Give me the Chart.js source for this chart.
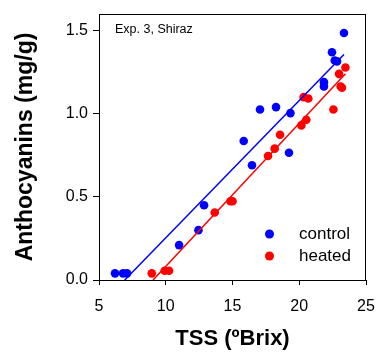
<!DOCTYPE html>
<html>
<head>
<meta charset="utf-8">
<script src="https://cdn.jsdelivr.net/npm/chart.js@4"></script>
<style>
  html, body { margin: 0; padding: 0; background: #fff; }
  #wrap { width: 377px; height: 352px; }
</style>
</head>
<body>
<div id="wrap"><canvas id="chart"></canvas></div>
<script>
// Control (blue) points
const controlX = [6.2, 6.8, 7.1, 11.0, 12.45, 12.87, 15.84, 16.46, 17.06, 18.26, 19.23, 19.34, 21.85, 21.85, 22.45, 22.66, 22.83, 23.35];
const controlY = [0.04, 0.04, 0.04, 0.21, 0.30, 0.45, 0.836, 0.69, 1.026, 1.04, 0.765, 1.004, 1.19, 1.164, 1.37, 1.32, 1.315, 1.486];

// Heated (red) points
const heatedX = [8.95, 9.92, 10.25, 13.67, 14.85, 15.0, 17.66, 18.16, 18.56, 20.16, 20.53, 20.33, 20.68, 22.56, 22.98, 23.46, 23.1, 23.2];
const heatedY = [0.04, 0.056, 0.056, 0.406, 0.474, 0.474, 0.746, 0.79, 0.874, 0.93, 0.964, 1.10, 1.092, 1.026, 1.24, 1.278, 1.164, 1.156];

// Fitted regression lines (end points)
const controlFitX = [6.93, 23.35];
const controlFitY = [0, 1.356];
const heatedFitX = [9.05, 23.46];
const heatedFitY = [0, 1.24];

const xTicks = [5, 10, 15, 20, 25];
const yTicks = [0.0, 0.5, 1.0, 1.5];

const seriesNames = ['control', 'heated'];
const blue = '#0000ff';
const red = '#ff0000';

function toPoints(xs, ys) {
  return xs.map((x, i) => ({ x: x, y: ys[i] }));
}

// frame around plot + inner legend + note text
const framePlugin = {
  id: 'frame',
  afterDraw(chart) {
    const { ctx, chartArea } = chart;
    ctx.save();
    ctx.strokeStyle = '#000';
    ctx.lineWidth = 1;
    ctx.strokeRect(chartArea.left + 0.5, chartArea.top + 0.5,
      chartArea.right - chartArea.left - 1, chartArea.bottom - chartArea.top);

    ctx.fillStyle = '#000';
    ctx.font = '12.5px "Liberation Sans", Arial, sans-serif';
    ctx.textBaseline = 'middle';
    ctx.textAlign = 'left';
    ctx.fillText('Exp. 3, Shiraz', chartArea.left + 16, chartArea.top + 16);

    // legend
    const colors = [blue, red];
    ctx.font = '17px "Liberation Sans", Arial, sans-serif';
    seriesNames.forEach((name, i) => {
      const cy = chartArea.top + 220 + i * 22;
      const cx = chartArea.left + 170.5;
      ctx.beginPath();
      ctx.arc(cx, cy, 4.5, 0, Math.PI * 2);
      ctx.fillStyle = colors[i];
      ctx.fill();
      ctx.fillStyle = '#000';
      ctx.fillText(name, cx + 29.5, cy);
    });
    ctx.restore();
  }
};

const tickFont = { family: '"Liberation Sans", Arial, sans-serif', size: 16 };
const titleFont = { family: '"Liberation Sans", Arial, sans-serif', size: 22, weight: 'bold' };

new Chart(document.getElementById('chart'), {
  type: 'scatter',
  data: {
    datasets: [
      {
        label: 'control fit',
        type: 'line',
        data: toPoints(controlFitX, controlFitY),
        borderColor: blue,
        borderWidth: 1.5,
        pointRadius: 0,
        fill: false
      },
      {
        label: 'heated fit',
        type: 'line',
        data: toPoints(heatedFitX, heatedFitY),
        borderColor: red,
        borderWidth: 1.5,
        pointRadius: 0,
        fill: false
      },
      {
        label: seriesNames[0],
        data: toPoints(controlX, controlY),
        backgroundColor: blue,
        borderColor: blue,
        pointRadius: 4.3,
        borderWidth: 0
      },
      {
        label: seriesNames[1],
        data: toPoints(heatedX, heatedY),
        backgroundColor: red,
        borderColor: red,
        pointRadius: 4.3,
        borderWidth: 0
      }
    ]
  },
  options: {
    responsive: true,
    maintainAspectRatio: false,
    animation: false,
    clip: false,
    layout: { padding: { top: 14, right: 11, left: 0, bottom: 0 } },
    plugins: {
      legend: { display: false },
      tooltip: { enabled: false }
    },
    scales: {
      x: {
        type: 'linear',
        min: 5,
        max: 25,
        afterBuildTicks: s => { s.ticks = xTicks.map(v => ({ value: v })); },
        afterFit: s => { s.height = 72; s.paddingLeft = 0; s.paddingRight = 0; },
        ticks: { font: tickFont, color: '#000', padding: 12, maxRotation: 0 },
        grid: { drawOnChartArea: false, tickLength: 5, color: '#000' },
        border: { display: true, color: '#000', width: 1 },
        title: { display: true, text: 'TSS (ºBrix)', font: titleFont, color: '#000', padding: { top: 0, bottom: 0 } }
      },
      y: {
        type: 'linear',
        min: 0,
        max: 1.6,
        afterBuildTicks: s => { s.ticks = yTicks.map(v => ({ value: v })); },
        afterFit: s => { s.width = 99; s.paddingTop = 0; s.paddingBottom = 0; },
        ticks: { font: tickFont, color: '#000', padding: 5, callback: v => v.toFixed(1) },
        grid: { drawOnChartArea: false, tickLength: 6, color: '#000' },
        border: { display: true, color: '#000', width: 1 },
        title: { display: true, text: 'Anthocyanins (mg/g)', font: Object.assign({}, titleFont, { size: 23 }), color: '#000', padding: { top: 12, bottom: 0 } }
      }
    }
  },
  plugins: [framePlugin]
});
</script>
</body>
</html>
